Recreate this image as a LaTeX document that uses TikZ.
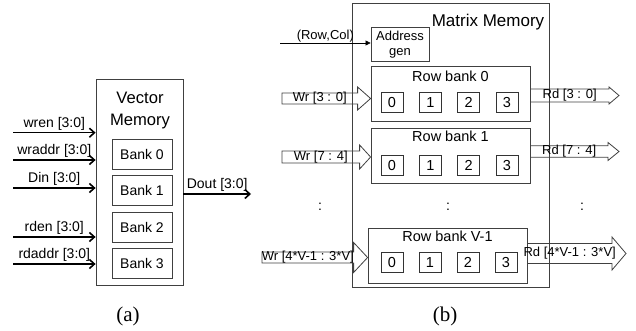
\documentclass[tikz,border=0pt]{standalone}
\usepackage{fontspec}
\setmainfont{Liberation Sans}
\newfontfamily\capfont{Liberation Serif}
\usetikzlibrary{arrows.meta, positioning, calc}

\tikzset{
  membox/.style={draw=black!75, line width=0.8pt},
  bankbox/.style={draw=black!75, line width=0.8pt, minimum width=60pt, minimum height=30pt, font=\fontsize{14}{16}\selectfont},
  rowbox/.style={draw=black!75, line width=0.8pt, minimum width=159pt, minimum height=55pt},
  rowtitle/.style={inner sep=0pt, font=\fontsize{14.5}{16}\selectfont},
  cell/.style={draw=black!80, line width=0.8pt, minimum width=22pt, minimum height=20pt, inner sep=0pt, font=\fontsize{14.5}{16}\selectfont},
  sig/.style={-{Straight Barb[length=5pt,width=9pt]}, line width=1.6pt},
  siglabel/.style={above, inner sep=1.5pt, font=\fontsize{14}{16}\selectfont},
  bus/.style={draw=black!75, line width=0.8pt},
  buslabel/.style={inner sep=0pt, font=\fontsize{13}{15}\selectfont},
}

% wide bus arrow: tail, tip, body half, head half, head length, name, text
\newcommand{\busarrow}[7]{%
  \draw[bus] let \p1=#1, \p2=#2 in
    (\x1,\y2+#3) -- (\x2-#5,\y2+#3) -- (\x2-#5,\y2+#4) -- (\x2,\y2)
    -- (\x2-#5,\y2-#4) -- (\x2-#5,\y2-#3) -- (\x1,\y2-#3) -- cycle
    (\x1/2+\x2/2-#5/2,\y2) node[buslabel] (#6) {#7};
}

\begin{document}
\begin{tikzpicture}[x=1pt, y=-1pt]
    \useasboundingbox (0,0) rectangle (636,331);

    % Vector memory
    \node[membox, minimum width=87pt, minimum height=206pt] (vec) at (139.5,182) {};
    \node[align=center, font=\fontsize{16.6}{22}\selectfont] (vectitle) at (140,111) {Vector\\Memory};
    \node[bankbox] (bank0) at (142,154.5) {Bank 0};
    \node[bankbox] (bank1) at (142,190) {Bank 1};
    \node[bankbox] (bank2) at (142,227) {Bank 2};
    \node[bankbox] (bank3) at (142,263) {Bank 3};

    % Vector ports
    \coordinate (wren) at (13,132.7);
    \coordinate (wraddr) at (13,160);
    \coordinate (din) at (13,188);
    \coordinate (rden) at (13,237);
    \coordinate (rdaddr) at (13,264);
    \coordinate (dout) at (251,194);
    \draw[sig] (wren) -- (wren -| vec.west) node[midway, siglabel] (wrenlabel) {wren [3:0]};
    \draw[sig] (wraddr) -- (wraddr -| vec.west) node[midway, siglabel] (wraddrlabel) {wraddr [3:0]};
    \draw[sig] (din) -- (din -| vec.west) node[midway, siglabel] (dinlabel) {Din [3:0]};
    \draw[sig] (rden) -- (rden -| vec.west) node[midway, siglabel] (rdenlabel) {rden [3:0]};
    \draw[sig] (rdaddr) -- (rdaddr -| vec.west) node[midway, siglabel] (rdaddrlabel) {rdaddr [3:0]};
    \draw[sig] (vec.east |- dout) -- (dout) node[midway, siglabel] (doutlabel) {Dout [3:0]};

    % Matrix memory
    \node[membox, minimum width=197pt, minimum height=284pt] (mat) at (450.5,145) {};
    \node[font=\fontsize{17}{20}\selectfont] (mattitle) at (488,22) {Matrix Memory};
    \node[membox, minimum width=58pt, minimum height=33pt, align=center, font=\fontsize{13}{15}\selectfont] (addr) at (400,44.5) {Address\\gen};
    \coordinate (rowcol) at (280,43);
    \draw[-{Triangle[length=5pt,width=5pt]}, line width=0.6pt] (rowcol) -- (rowcol -| addr.west)
        node[midway, above, inner sep=1pt, font=\fontsize{13}{15}\selectfont] (rowcollabel) {(Row,Col)};

    % Row banks
    \node[rowbox] (rb0) at (450.5,93.5) {};
    \node[rowtitle, below=5pt of rb0.north] (rb0title) {Row bank 0};
    \foreach \i in {0,...,3}
        \node[cell] (rb0c\i) at ($(rb0.south)+(-58.5+38.3*\i,-19)$) {\i};

    \node[rowbox] (rb1) at (450.5,155.5) {};
    \node[rowtitle, below=3.5pt of rb1.north] (rb1title) {Row bank 1};
    \foreach \i in {0,...,3}
        \node[cell] (rb1c\i) at ($(rb1.south)+(-58.5+38.3*\i,-18)$) {\i};

    \node[rowbox] (rbv) at (447.5,256) {};
    \node[rowtitle, below=2.5pt of rbv.north] (rbvtitle) {Row bank V-1};
    \foreach \i in {0,...,3}
        \node[cell] (rbvc\i) at ($(rbv.south)+(-55.5+38*\i,-21.5)$) {\i};

    % Dots
    \node[font=\fontsize{14}{16}\selectfont] (dotl) at (320,207) {:};
    \node[font=\fontsize{14}{16}\selectfont] (dotm) at (448,207) {:};
    \node[font=\fontsize{14}{16}\selectfont] (dotr) at (582,207) {:};

    % Bus arrows
    \coordinate (wr0) at (282,98.5);
    \coordinate (rd0) at (619,95.5);
    \coordinate (wr1) at (282,157);
    \coordinate (rd1) at (619,151.5);
    \coordinate (wrv) at (262,257.5);
    \coordinate (rdv) at (626,253.5);
    \busarrow{(wr0)}{(rb0.west |- wr0)}{5.5}{11.5}{13}{wr0label}{Wr [3 : 0]}
    \busarrow{(rb0.east |- rd0)}{(rd0)}{6.5}{8.5}{10}{rd0label}{Rd [3 : 0]}
    \busarrow{(wr1)}{(rb1.west |- wr1)}{6}{12}{11}{wr1label}{Wr [7 : 4]}
    \busarrow{(rb1.east |- rd1)}{(rd1)}{5.7}{9}{11}{rd1label}{Rd [7 : 4]}
    \busarrow{(wrv)}{(rbv.west |- wrv)}{5.5}{15}{14}{wrvlabel}{Wr [4*V-1 : 3*V]}
    \busarrow{(rbv.east |- rdv)}{(rdv)}{10}{16.5}{14}{rdvlabel}{Rd [4*V-1 : 3*V]}

    % Captions
    \node[font=\capfont\fontsize{21}{24}\selectfont] (capa) at (128,316) {(a)};
    \node[font=\capfont\fontsize{21}{24}\selectfont] (capb) at (445,316) {(b)};
\end{tikzpicture}
\end{document}
